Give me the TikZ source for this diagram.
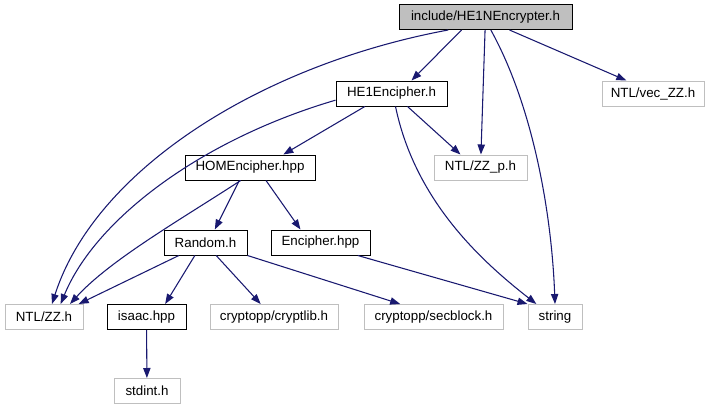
\documentclass[tikz,border=0pt]{standalone}
\usepackage{fontspec}
\setmainfont{Liberation Sans}
\usetikzlibrary{arrows.meta}
\definecolor{edge}{HTML}{191970}
\definecolor{extline}{HTML}{BFBFBF}
\definecolor{rootfill}{HTML}{BFBFBF}
\tikzset{
  filebox/.style={draw=black,fill=white,line width=0.75pt,minimum height=18.75pt,
    inner sep=0pt,font=\fontsize{10}{12}\selectfont},
  extbox/.style={filebox,draw=extline},
  rootbox/.style={filebox,fill=rootfill},
  dep/.style={-{Triangle[length=7.5pt,width=5.5pt]},draw=edge,line width=0.8pt},
}

\begin{document}
\begin{tikzpicture}[x=0.75pt,y=-0.75pt]
  \useasboundingbox (0,0) rectangle (714,411);

  % one row per include level, positions in pixels of the graph
  \node[rootbox,minimum width=129.75pt] (hne) at (485.5,17) {include/HE1NEncrypter.h};

  \node[filebox,minimum width=83.25pt] (hee) at (391.5,93.5) {HE1Encipher.h};
  \node[extbox,minimum width=76.5pt] (vec) at (653,93.5) {NTL/vec\_ZZ.h};

  \node[filebox,minimum width=97.5pt] (hom) at (250,167.5) {HOMEncipher.hpp};
  \node[extbox,minimum width=69.75pt] (zzp) at (480.5,167.5) {NTL/ZZ\_p.h};

  \node[filebox,minimum width=62.25pt] (rnd) at (205.5,242.5) {Random.h};
  \node[filebox,minimum width=74.25pt] (enc) at (320.5,242.5) {Encipher.hpp};

  \node[extbox,minimum width=58.5pt] (zz) at (44,317) {NTL/ZZ.h};
  \node[filebox,minimum width=59.25pt] (isaac) at (146.5,317) {isaac.hpp};
  \node[extbox,minimum width=96pt] (cryptlib) at (274,317) {cryptopp/cryptlib.h};
  \node[extbox,minimum width=104.25pt] (secblock) at (433.5,317) {cryptopp/secblock.h};
  \node[extbox,minimum width=40.5pt] (str) at (555,317) {string};

  \node[extbox,minimum width=49.5pt] (stdint) at (147,391) {stdint.h};

  % includes of the root file
  \draw[dep] ([xshift=-28pt]hne.south) .. controls (260,65) and (95,170) .. ([xshift=6pt]zz.north);
  \draw[dep] ([xshift=-18pt]hne.south) -- ([xshift=15pt]hee.north);
  \draw[dep] (hne) -- (zzp);
  \draw[dep] ([xshift=4pt]hne.south) .. controls (535,110) and (552,220) .. (str.north);
  \draw[dep] ([xshift=18pt]hne.south) -- ([xshift=-20pt]vec.north);

  % HE1Encipher.h
  \draw[dep] ([yshift=-5pt]hee.west) .. controls (200,140) and (95,220) .. ([xshift=12.5pt]zz.north);
  \draw[dep] ([xshift=-20pt]hee.south) -- ([xshift=25pt]hom.north);
  \draw[dep] ([xshift=12pt]hee.south) -- ([xshift=-15pt]zzp.north);
  \draw[dep] ([xshift=3pt]hee.south) .. controls (415,200) and (480,260) .. ([xshift=-14pt]str.north);

  % HOMEncipher.hpp
  \draw[dep] ([xshift=-7pt]hom.south) .. controls (180,220) and (110,260) .. ([xshift=19.5pt]zz.north);
  \draw[dep] ([xshift=-8pt]hom.south) -- ([xshift=7pt]rnd.north);
  \draw[dep] ([xshift=12pt]hom.south) -- ([xshift=-15pt]enc.north);

  % Random.h, Encipher.hpp, isaac.hpp
  \draw[dep] ([xshift=-20pt]rnd.south) -- ([xshift=26pt]zz.north);
  \draw[dep] ([xshift=-8pt]rnd.south) -- ([xshift=14pt]isaac.north);
  \draw[dep] ([xshift=8pt]rnd.south) -- ([xshift=-10pt]cryptlib.north);
  \draw[dep] (rnd.south east) -- ([xshift=-25pt]secblock.north);
  \draw[dep] ([xshift=28pt]enc.south) -- (str.north west);
  \draw[dep] (isaac) -- (stdint);
\end{tikzpicture}
\end{document}
